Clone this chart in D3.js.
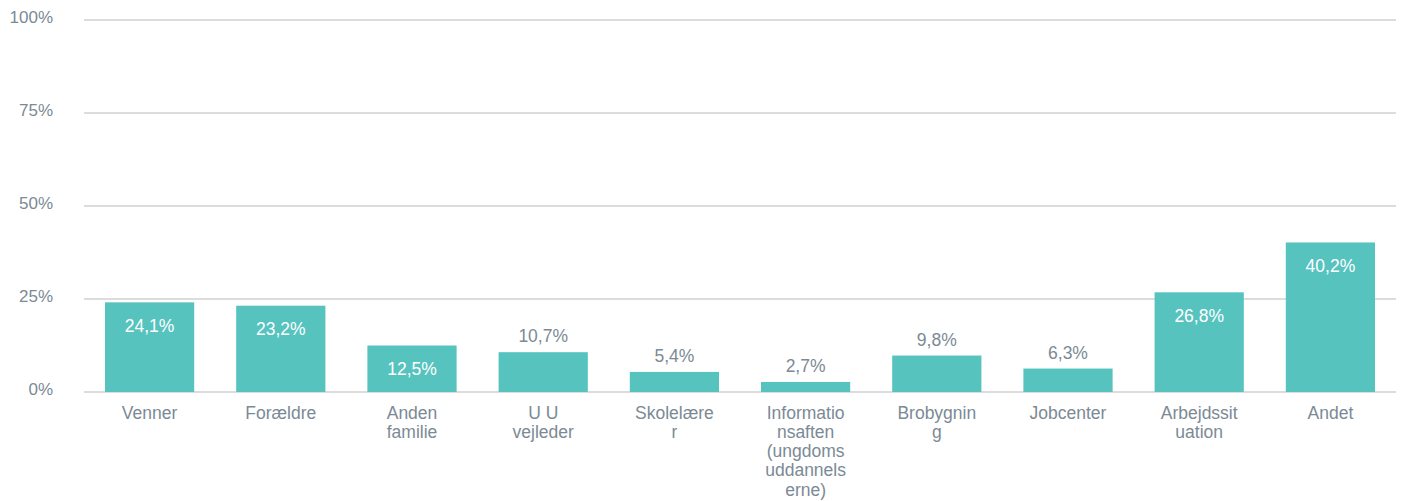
<!DOCTYPE html>
<html><head><meta charset="utf-8">
<script src="https://cdn.jsdelivr.net/npm/d3@7"></script>
<style>body{margin:0;background:#fff;}svg{display:block;font-family:"Liberation Sans",Arial,sans-serif;}</style>
</head><body>
<svg id="c" width="1404" height="501"></svg>
<script>
const categories = ["Venner","Forældre","Anden familie","UU vejleder","Skolelærer","Informationsaften (ungdomsuddannelserne)","Brobygning","Jobcenter","Arbejdssituation","Andet"];
const labelLines = [["Venner"],["Forældre"],["Anden","familie"],["U U","vejleder"],["Skolelære","r"],["Informatio","nsaften","(ungdoms","uddannels","erne)"],["Brobygnin","g"],["Jobcenter"],["Arbejdssit","uation"],["Andet"]];
const values = [24.1,23.2,12.5,10.7,5.4,2.7,9.8,6.3,26.8,40.2];
const yTicks = [0,25,50,75,100];

const svg = d3.select("#c");
const x = d3.scaleBand().domain(categories).range([84,1396]).paddingInner(0.32).paddingOuter(0.16);
const y = d3.scaleLinear().domain([0,100]).range([392,20]);
const grey = "#7b8a95", teal = "#56c3bf";

svg.append("g").selectAll("line").data(yTicks).join("line")
  .attr("x1",84).attr("x2",1396).attr("y1",d=>y(d)).attr("y2",d=>y(d))
  .attr("stroke","#d0d0d0").attr("stroke-width",1.6);
svg.append("g").selectAll("text").data(yTicks).join("text")
  .attr("x",53).attr("y",d=>y(d)-3).attr("dy","0.35em").attr("text-anchor","end")
  .attr("fill",grey).attr("font-size",17).text(d=>d+"%");

svg.append("g").selectAll("rect").data(values).join("rect")
  .attr("x",(d,i)=>x(categories[i])).attr("width",x.bandwidth())
  .attr("y",d=>y(d)).attr("height",d=>y(0)-y(d)).attr("fill",teal);

const fmt = v => v.toFixed(1).replace(".",",")+"%";
svg.append("g").selectAll("text").data(values).join("text")
  .attr("x",(d,i)=>x(categories[i])+x.bandwidth()/2)
  .attr("y",d=> d>=12 ? y(d)+29.5 : y(d)-10)
  .attr("text-anchor","middle").attr("font-size",17.5)
  .attr("fill",d=> d>=12 ? "#ffffff" : grey).text(fmt);

const xl = svg.append("g").selectAll("text").data(labelLines).join("text")
  .attr("text-anchor","middle").attr("font-size",17.5).attr("fill",grey)
  .attr("transform",(d,i)=>`translate(${x(categories[i])+x.bandwidth()/2},418.5)`);
xl.selectAll("tspan").data(d=>d).join("tspan").attr("x",0).attr("y",(d,j)=>j*19.3).text(d=>d);
</script>
</body></html>
